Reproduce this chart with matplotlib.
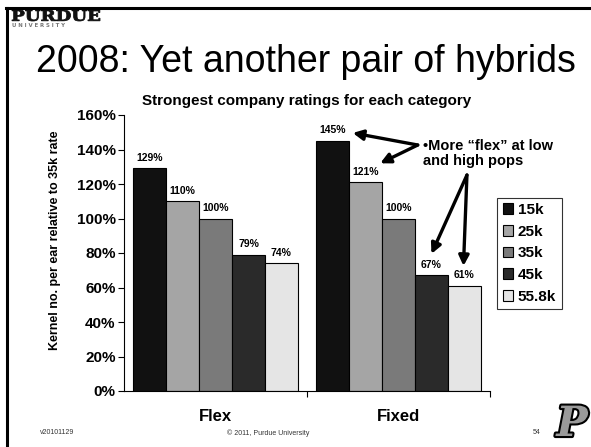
import numpy as np
import matplotlib
matplotlib.use('Agg')
import matplotlib.pyplot as plt
import matplotlib.patheffects as pe
from matplotlib.lines import Line2D
from matplotlib.textpath import TextPath
from matplotlib.font_manager import FontProperties
from matplotlib.patches import PathPatch
from matplotlib.transforms import Affine2D

plt.rcParams['font.family'] = ['Liberation Sans', 'DejaVu Sans']

categories = ['Flex', 'Fixed']
series = ['15k', '25k', '35k', '45k', '55.8k']
values = {
    '15k': [129, 145],
    '25k': [110, 121],
    '35k': [100, 100],
    '45k': [79, 67],
    '55.8k': [74, 61],
}
colors = ['#111111', '#a5a5a5', '#7a7a7a', '#2a2a2a', '#e5e5e5']
yticks = [0, 20, 40, 60, 80, 100, 120, 140, 160]

fig = plt.figure(figsize=(5.91, 4.47), dpi=100)
W, H = 591, 447

# slide frame
fig.add_artist(Line2D([6 / W, 1], [1 - 7.5 / H, 1 - 7.5 / H], color='black', lw=2.2))
fig.add_artist(Line2D([7 / W, 7 / W], [0, 1 - 7.5 / H], color='black', lw=2.2))

# Purdue wordmark, stretched horizontally like the slab-serif original
tp = TextPath((0, 0), 'PURDUE', size=15,
              prop=FontProperties(family='DejaVu Serif', weight='bold'))
bb = tp.get_extents()
sx = 88 / bb.width
sy = 11 / bb.height
tr = Affine2D().translate(-bb.x0, -bb.y0).scale(sx, sy).translate(12, H - 21)
fig.add_artist(PathPatch(tr.transform_path(tp), facecolor='#111111', edgecolor='#111111',
                         lw=0.6, transform=None))
fig.text(12 / W, 1 - 25.5 / H, 'U N I V E R S I T Y', family='DejaVu Sans', fontweight='bold',
         fontsize=3.9, va='center', ha='left', color='#777777')

fig.text(306 / W, 1 - 62 / H, '2008: Yet another pair of hybrids', fontsize=27,
         ha='center', va='center', color='black')

ax = fig.add_axes([124 / W, 1 - 391 / H, 366 / W, 276 / H])

x = np.arange(len(categories))
w = 0.18
for j, s in enumerate(series):
    pos = x + (j - 2) * w
    bars = ax.bar(pos, values[s], width=w, color=colors[j], edgecolor='black',
                  linewidth=0.8, label=s)
    for p, v in zip(pos, values[s]):
        ax.annotate('%d%%' % v, (p, v), xytext=(0, 4), textcoords='offset points',
                    ha='center', va='bottom', fontsize=7.5, fontweight='bold')

ax.set_xlim(-0.5, 1.5)
ax.set_ylim(0, 160)
ax.set_yticks(yticks)
ax.set_yticklabels(['%d%%' % t for t in yticks], fontsize=11, fontweight='bold')
ax.set_xticks(x)
ax.set_xticklabels(categories, fontsize=12, fontweight='bold')
ax.set_xticks([0.5, 1.5], minor=True)
ax.tick_params(axis='x', which='major', length=0, pad=13)
ax.tick_params(axis='x', which='minor', length=4, direction='out', width=0.8)
ax.tick_params(axis='y', length=4, direction='out', width=0.8, pad=2)
for sp in ['top', 'right']:
    ax.spines[sp].set_visible(False)
ax.spines['left'].set_linewidth(0.8)
ax.spines['bottom'].set_linewidth(0.8)

ax.set_ylabel('Kernel no. per ear relative to 35k rate', fontsize=9, fontweight='bold')
ax.yaxis.set_label_coords(-0.172, 0.547)
ax.set_title('Strongest company ratings for each category', fontsize=11,
             fontweight='bold', pad=7)

leg = ax.legend(loc='upper left', bbox_to_anchor=(1.02, 0.70), frameon=True,
                fancybox=False, edgecolor='black',
                prop={'weight': 'bold', 'size': 11}, handlelength=0.7,
                handleheight=0.7, handletextpad=0.3, labelspacing=0.5,
                borderpad=0.35, borderaxespad=0)
leg.get_frame().set_linewidth(0.8)

# annotation with arrows
ax.text(1.134, 137.7, '\u2022More \u201cflex\u201d at low\nand high pops', ha='left',
        va='center', fontsize=10.5, fontweight='bold', linespacing=1.15, clip_on=False)
arrow = dict(arrowstyle='-|>', lw=2.4, color='black', mutation_scale=15,
             shrinkA=0, shrinkB=0)
fixed = 1
tail1 = (1.105, 142.6)
tail2 = (1.374, 125.2)
ax.annotate('', xy=(fixed - 2 * w + 0.11, values['15k'][1] + 4.6), xytext=tail1,
            arrowprops=arrow, annotation_clip=False)
ax.annotate('', xy=(fixed - w + 0.08, values['25k'][1] + 11), xytext=tail1,
            arrowprops=arrow, annotation_clip=False)
ax.annotate('', xy=(fixed + w, values['45k'][1] + 12.5), xytext=tail2,
            arrowprops=arrow, annotation_clip=False)
ax.annotate('', xy=(fixed + 2 * w - 0.005, values['55.8k'][1] + 11.5), xytext=tail2,
            arrowprops=arrow, annotation_clip=False)

# footer
fig.text(57 / W, 1 - 433 / H, 'v20101129', fontsize=5, ha='center', va='center', color='#333333')
fig.text(268 / W, 1 - 433 / H, '\u00a9 2011, Purdue University', fontsize=5,
         ha='center', va='center', color='#333333')
fig.text(537 / W, 1 - 433 / H, '54', fontsize=5, ha='center', va='center', color='#333333')
fig.text(572 / W, 1 - 424 / H, 'P', family='DejaVu Serif', fontweight='bold', style='italic',
         fontsize=30, ha='center', va='center', color='#9a9a9a',
         path_effects=[pe.Stroke(linewidth=3, foreground='black'), pe.Normal()])

fig.savefig('out.png', dpi=100)
